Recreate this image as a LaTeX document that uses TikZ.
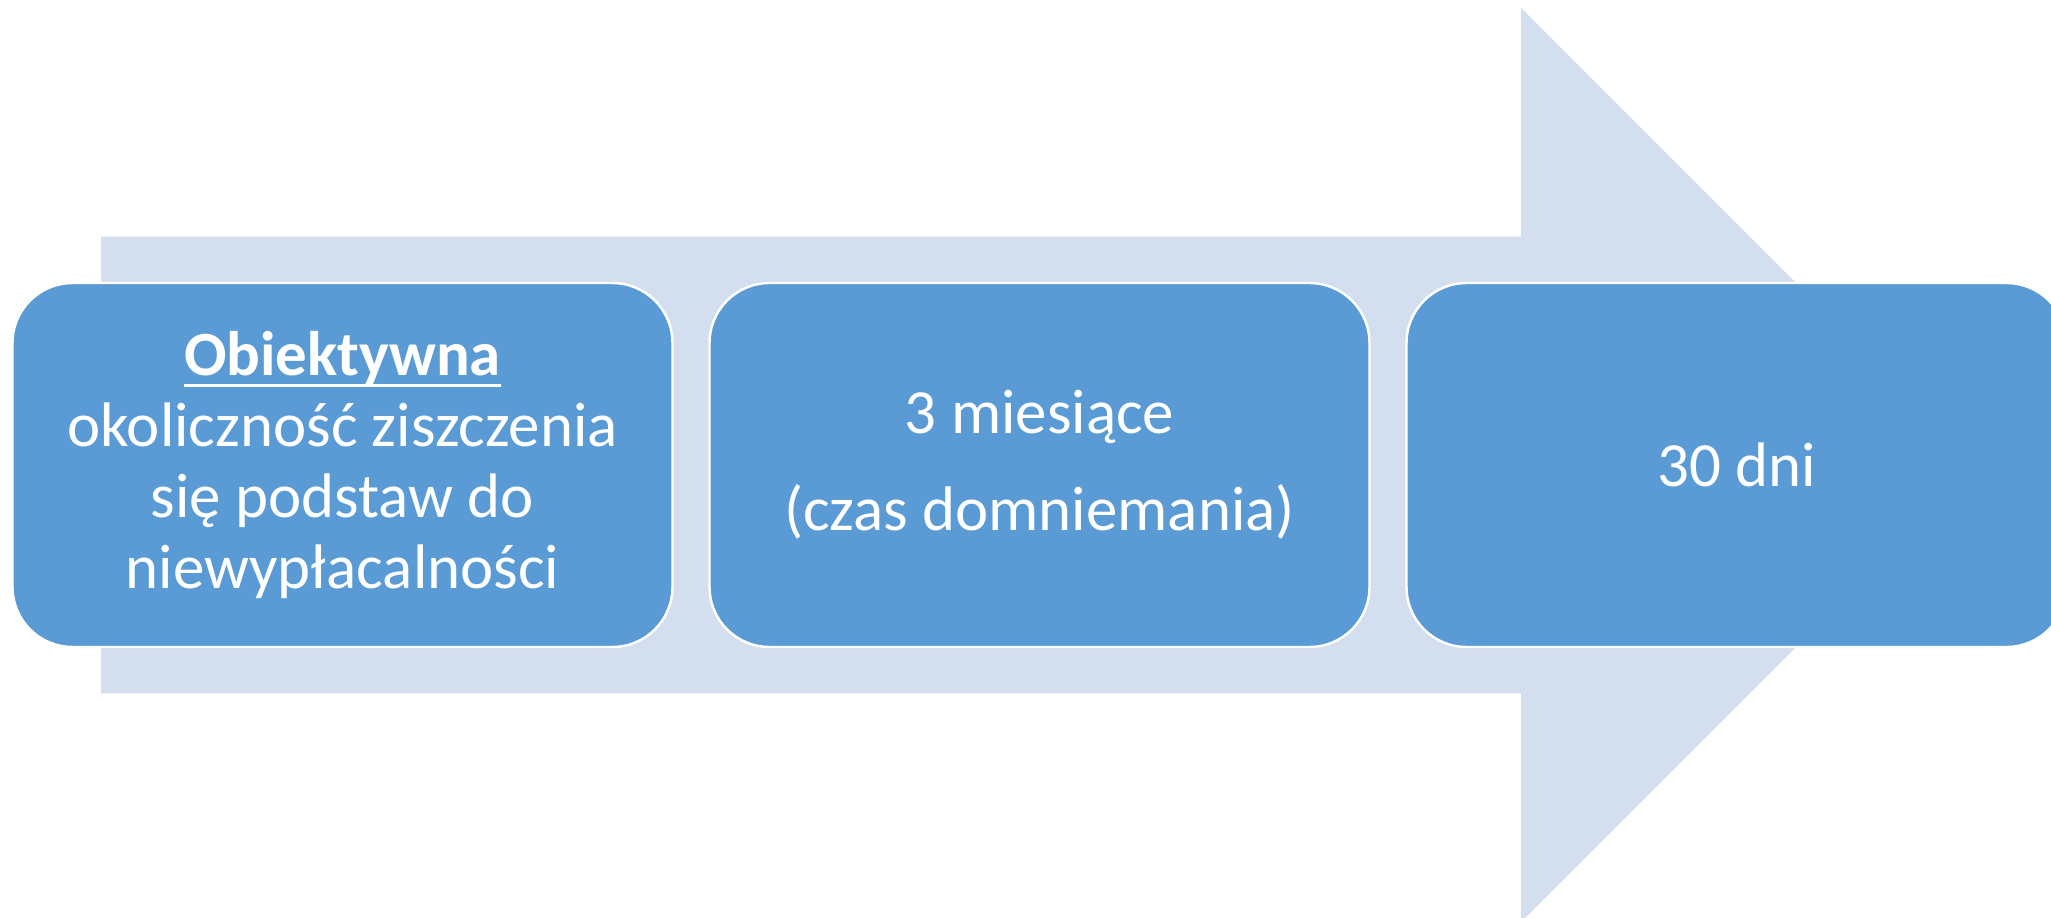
\documentclass[tikz,border=0pt]{standalone}
\usepackage{fontspec}
\setmainfont{Carlito}
\usetikzlibrary{positioning}
\definecolor{arrowfill}{HTML}{D3DEEF}
\definecolor{boxfill}{HTML}{5B9BD5}
\newcommand{\ulword}[1]{\setbox0\hbox{#1}\rlap{\rule[-0.19em]{\wd0}{0.053em}}\box0}

\begin{document}
\begin{tikzpicture}[
		stage/.style={rectangle, rounded corners=0.6cm, draw=white, line width=0.7pt, fill=boxfill, text=white, minimum width=6.6cm, minimum height=3.64cm, outer sep=0pt, align=center, font=\fontsize{17.9}{20.2}\selectfont},
		node distance=0.37cm
	]
	\useasboundingbox (0,0) rectangle (20.51,-9.18);
	\clip (0,0) rectangle (20.51,-9.18);
	% Background arrow
	\fill[arrowfill] (1.01,-2.367) -- (15.21,-2.367) -- (15.21,-0.08) -- (19.78,-4.65) -- (15.21,-9.22) -- (15.21,-6.933) -- (1.01,-6.933) -- cycle;
	% Nodes
	\node[stage, anchor=north west] (objective) at (0.125,-2.83) {\ulword{\textbf{Obiektywna}}\\okoliczność ziszczenia\\się podstaw do\\niewypłacalności};
	\node[stage, right=of objective] (presumption) {3 miesiące\\[7.4pt](czas domniemania)};
	\node[stage, right=of presumption] (deadline) {30 dni};
\end{tikzpicture}
\end{document}
